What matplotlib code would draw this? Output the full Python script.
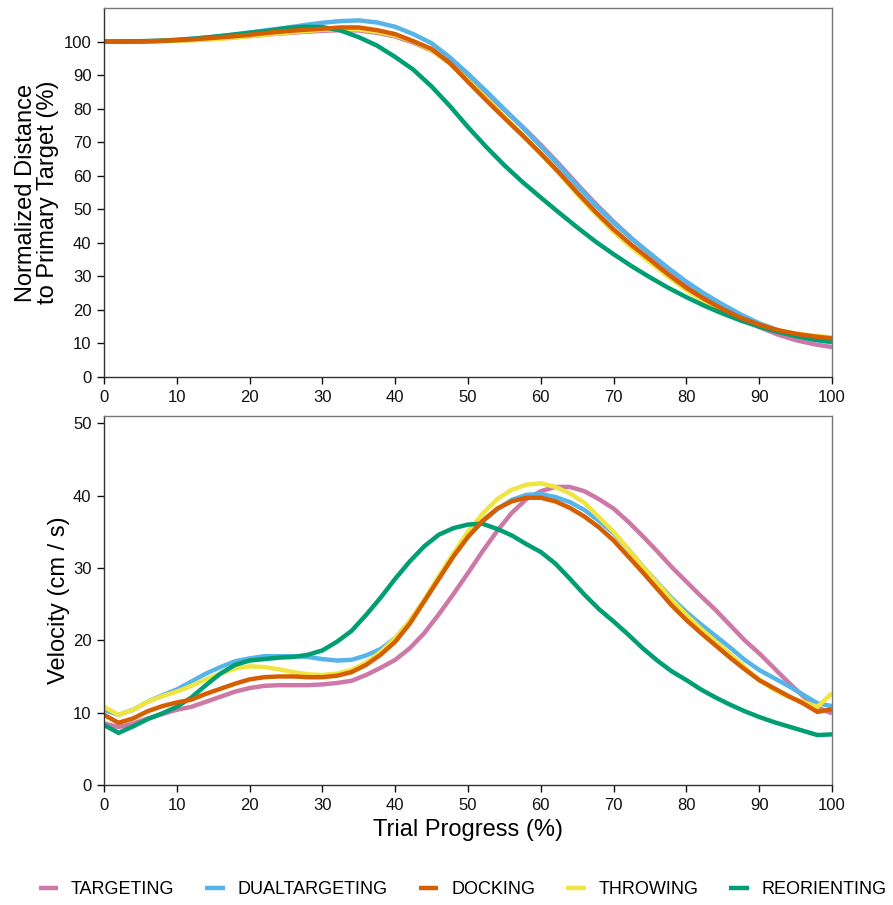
"""Distance and velocity profiles over trial progress."""

import matplotlib

matplotlib.use("Agg")
import matplotlib.pyplot as plt

plt.rcParams["font.family"] = ["Liberation Sans", "DejaVu Sans"]

TASKS = ["TARGETING", "DUALTARGETING", "DOCKING", "THROWING", "REORIENTING"]
COLORS = ["#CC79A7", "#56B4E9", "#D55E00", "#F0E442", "#009E73"]

# distance curves sampled every 2.5 % of trial progress
DIST_PROGRESS = [i * 2.5 for i in range(41)]

DIST_TARGETING = [
    100, 100, 100, 100.1, 100.3, 100.5, 100.8, 101.2, 101.6, 102.1, 102.5, 102.9, 103.2, 103.4,
    103.3, 102.6, 101.5, 99.7, 97.3, 94.0, 89.6, 84.6, 79.6, 74.6, 69.2, 63.5, 57.5, 51.7,
    46.3, 41.3, 36.7, 32.2, 28.0, 24.2, 20.8, 17.6, 14.9, 12.7, 11.0, 9.8, 8.9,
]
DIST_DUALTARGETING = [
    100, 100, 100.1, 100.2, 100.5, 100.9, 101.4, 102.0, 102.7, 103.4, 104.1, 104.9, 105.6, 106.1,
    106.3, 105.7, 104.4, 102.2, 99.5, 95.3, 90.4, 85.2, 79.8, 74.4, 68.8, 63.0, 57.0, 51.3,
    46.0, 41.2, 36.8, 32.5, 28.4, 24.8, 21.6, 18.6, 16.0, 14.0, 12.3, 11.1, 10.3,
]
DIST_DOCKING = [
    100, 100, 100, 100.2, 100.4, 100.7, 101.1, 101.5, 102.0, 102.6, 103.1, 103.5, 103.8, 104.2,
    104.2, 103.4, 102.2, 100.1, 97.8, 93.6, 88.0, 82.5, 77.2, 72.0, 66.6, 61.0, 55.0, 49.3,
    44.0, 39.3, 35.0, 30.6, 26.6, 23.2, 20.2, 17.6, 15.6, 14.0, 12.9, 12.1, 11.5,
]
DIST_THROWING = [
    100, 99.9, 100, 100.1, 100.2, 100.4, 100.7, 101.1, 101.6, 102.1, 102.6, 103.1, 103.5, 103.7,
    103.6, 102.9, 101.8, 100.0, 97.4, 93.4, 88.4, 83.1, 77.6, 72.2, 66.6, 60.7, 54.5, 48.7,
    43.3, 38.5, 34.2, 29.9, 25.9, 22.5, 19.6, 17.3, 15.4, 13.9, 12.9, 12.3, 11.8,
]
DIST_REORIENTING = [
    100, 100, 100.1, 100.2, 100.5, 100.9, 101.4, 102.0, 102.6, 103.2, 104.0, 104.4, 104.3, 103.3,
    101.3, 98.8, 95.4, 91.6, 86.6, 80.8, 74.5, 68.6, 63.1, 58.1, 53.5, 49.0, 44.6, 40.4,
    36.6, 33.0, 29.7, 26.6, 23.8, 21.2, 18.9, 16.8, 15.0, 13.5, 12.2, 11.2, 10.5,
]

# velocity curves sampled every 2 % of trial progress
VEL_PROGRESS = [i * 2 for i in range(51)]

VEL_TARGETING = [
    8.5, 8.0, 8.5, 9.2, 9.8, 10.4, 10.8, 11.5, 12.2, 12.9, 13.4, 13.7, 13.8, 13.8, 13.8, 13.9,
    14.1, 14.4, 15.2, 16.2, 17.3, 18.9, 21.0, 23.6, 26.4, 29.3, 32.3, 35.1, 37.6, 39.5, 40.6,
    41.2, 41.2, 40.6, 39.5, 38.2, 36.4, 34.4, 32.3, 30.1, 28.1, 26.1, 24.2, 22.1, 20.0, 18.2,
    16.2, 14.2, 12.3, 10.7, 9.9,
]
VEL_DUALTARGETING = [
    10.4, 9.7, 10.4, 11.5, 12.4, 13.2, 14.3, 15.4, 16.3, 17.1, 17.5, 17.8, 17.8, 17.8, 17.7, 17.4,
    17.2, 17.3, 17.9, 18.8, 20.3, 22.6, 25.5, 28.7, 31.7, 34.4, 36.4, 38.1, 39.4, 40.1, 40.2,
    39.8, 39.1, 38.0, 36.5, 34.8, 32.6, 30.2, 28.0, 25.8, 23.9, 22.2, 20.6, 19.0, 17.3, 15.9,
    14.8, 13.7, 12.5, 11.3, 10.9,
]
VEL_DOCKING = [
    9.7, 8.6, 9.2, 10.2, 10.9, 11.4, 11.8, 12.6, 13.3, 14.0, 14.6, 14.9, 15.0, 15.0, 14.9, 14.9,
    15.1, 15.6, 16.6, 18.0, 19.8, 22.3, 25.4, 28.5, 31.6, 34.3, 36.5, 38.2, 39.2, 39.7, 39.7,
    39.2, 38.3, 37.1, 35.6, 33.8, 31.6, 29.4, 27.1, 24.8, 22.8, 21.0, 19.3, 17.6, 16.0, 14.5,
    13.4, 12.3, 11.3, 10.1, 10.5,
]
VEL_THROWING = [
    10.8, 9.7, 10.4, 11.5, 12.3, 12.9, 13.7, 14.6, 15.4, 16.1, 16.4, 16.3, 16.0, 15.6, 15.3, 15.2,
    15.4, 15.9, 16.9, 18.4, 20.3, 22.7, 25.6, 28.9, 32.0, 35.0, 37.5, 39.5, 40.8, 41.5, 41.7,
    41.2, 40.3, 39.0, 37.0, 35.0, 32.6, 30.2, 27.9, 25.6, 23.5, 21.6, 19.8, 18.1, 16.3, 14.5,
    13.2, 12.2, 11.5, 10.8, 12.7,
]
VEL_REORIENTING = [
    8.3, 7.2, 8.1, 9.1, 9.9, 10.8, 12.1, 13.8, 15.4, 16.6, 17.2, 17.4, 17.6, 17.7, 18.0, 18.6,
    19.8, 21.3, 23.5, 25.9, 28.5, 30.9, 33.0, 34.6, 35.5, 36.0, 36.1, 35.4, 34.5, 33.3, 32.2,
    30.6, 28.5, 26.3, 24.3, 22.6, 20.8, 18.9, 17.2, 15.7, 14.5, 13.2, 12.1, 11.1, 10.2, 9.4,
    8.7, 8.1, 7.5, 6.9, 7.0,
]

DISTANCES = [DIST_TARGETING, DIST_DUALTARGETING, DIST_DOCKING, DIST_THROWING, DIST_REORIENTING]
VELOCITIES = [VEL_TARGETING, VEL_DUALTARGETING, VEL_DOCKING, VEL_THROWING, VEL_REORIENTING]

# drawing order (pink, blue, yellow, green, orange on top)
DRAW_ORDER = [0, 1, 3, 4, 2]


def style_axis(ax, ymax, yticks):
    ax.set_xlim(0, 100)
    ax.set_ylim(0, ymax)
    ax.set_xticks(range(0, 101, 10))
    ax.set_yticks(yticks)
    ax.tick_params(direction="out", length=5, width=1, labelsize=12, colors="#111111",
                   top=False, right=False, pad=4)
    for side in ["left", "bottom"]:
        ax.spines[side].set_color("#333333")
        ax.spines[side].set_linewidth(1.0)
    for side in ["top", "right"]:
        ax.spines[side].set_color("#777777")
        ax.spines[side].set_linewidth(1.0)


def main():
    fig = plt.figure(figsize=(8.93, 9.05), dpi=100)
    ax_top = fig.add_axes([104 / 893, 1 - 377 / 905, 728 / 893, 369 / 905])
    ax_bot = fig.add_axes([104 / 893, 1 - 785 / 905, 728 / 893, 369 / 905])

    handles = {}
    for idx in DRAW_ORDER:
        ax_top.plot(DIST_PROGRESS, DISTANCES[idx], color=COLORS[idx], lw=3.2,
                    solid_capstyle="butt")
        (line,) = ax_bot.plot(VEL_PROGRESS, VELOCITIES[idx], color=COLORS[idx], lw=3.2,
                              solid_capstyle="butt", solid_joinstyle="miter")
        handles[idx] = line

    style_axis(ax_top, 110, range(0, 101, 10))
    style_axis(ax_bot, 51, range(0, 51, 10))

    ax_top.set_ylabel("Normalized Distance\nto Primary Target (%)", fontsize=17, linespacing=1.0)
    ax_top.yaxis.set_label_coords(-0.062, 0.5)
    ax_bot.set_ylabel("Velocity (cm / s)", fontsize=17)
    ax_bot.yaxis.set_label_coords(-0.047, 0.5)
    ax_bot.set_xlabel("Trial Progress (%)", fontsize=17, labelpad=5)

    fig.legend([handles[i] for i in range(len(TASKS))], TASKS, loc="center",
               bbox_to_anchor=(0.518, 0.0166), ncol=5, frameon=False, fontsize=13,
               handlelength=1.1, handletextpad=0.7, columnspacing=1.7)

    fig.savefig("out.png", dpi=100)
    plt.close(fig)


if __name__ == "__main__":
    main()
